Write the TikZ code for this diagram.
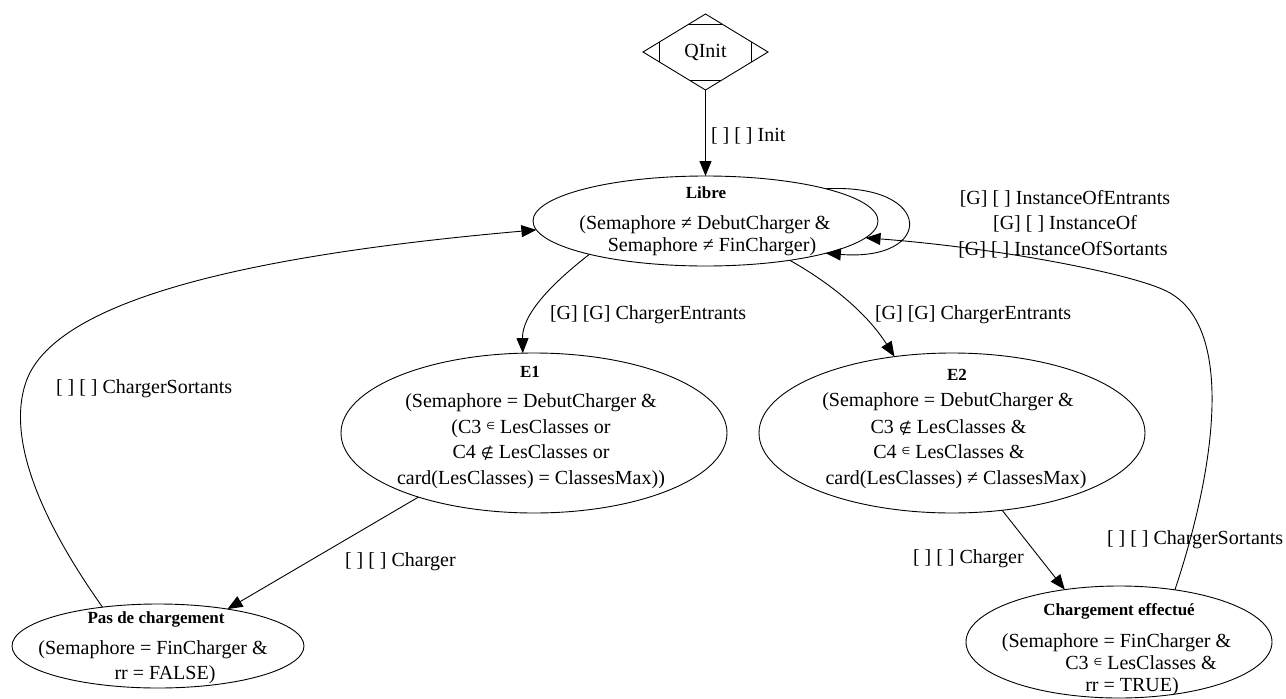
\documentclass[tikz,border=0pt]{standalone}
\usepackage{fontspec}
\setmainfont{Liberation Serif}
\newfontfamily\symf{DejaVu Sans}
\usetikzlibrary{shapes.geometric,arrows.meta,calc}
\newcommand{\smallin}{\raisebox{4pt}{\symf\fontsize{10}{10}\selectfont ∈}}
\newcommand{\bignotin}{{\symf\fontsize{15}{15}\selectfont ∉}}
\begin{document}
\begin{tikzpicture}[x=1pt,y=-1pt,
  every node/.style={inner sep=0pt, outer sep=0pt},
  st/.style 2 args={draw, ellipse, line width=0.9pt, minimum width=#1, minimum height=#2},
  tx/.style={font=\fontsize{20}{24}\selectfont, anchor=base},
  tb/.style={font=\bfseries\fontsize{17}{20}\selectfont, anchor=base},
  lb/.style={font=\fontsize{20}{24}\selectfont, anchor=base west},
  arr/.style={line width=0.9pt, -{Triangle[length=15pt,width=12pt]}},
  thin/.style={line width=0.9pt}]
\path[use as bounding box] (0,0) rectangle (1286,699);

% initial state
\node[draw, diamond, thin, aspect=1.645, minimum width=125pt, minimum height=76pt,
      font=\fontsize{20}{24}\selectfont] (qinit) at (705.5,52) {QInit};
\draw[thin] ($(qinit.north)!0.27!(qinit.west)$) -- ($(qinit.north)!0.27!(qinit.east)$);
\draw[thin] ($(qinit.south)!0.25!(qinit.west)$) -- ($(qinit.south)!0.25!(qinit.east)$);
\draw[thin] ($(qinit.west)!0.26!(qinit.north)$) -- ($(qinit.west)!0.26!(qinit.south)$);
\draw[thin] ($(qinit.east)!0.26!(qinit.north)$) -- ($(qinit.east)!0.26!(qinit.south)$);

% states
\node[st={345pt}{90pt}] (libre) at (705.5,221) {};
\node[st={386pt}{160pt}] (e1) at (534,433) {};
\node[st={386pt}{160pt}] (e2) at (952,433) {};
\node[st={292pt}{84pt}] (pas) at (158,646) {};
\node[st={306pt}{112pt}] (chef) at (1119,642) {};

% state texts
\node[tb] (libreT) at (706,198.5) {Libre};
\node[tx] (libreA) at (705,229.5) {(Semaphore ≠ DebutCharger \&};
\node[tx] (libreB) at (712,251) {Semaphore ≠ FinCharger)};

\node[tb] (e1T) at (530,377.5) {E1};
\node[tx] (e1A) at (531,407.5) {(Semaphore = DebutCharger \&};
\node[tx] (e1B) at (531,433.5) {(C3 \smallin{} LesClasses or};
\node[tx] (e1C) at (531,458.5) {C4 \bignotin{} LesClasses or};
\node[tx] (e1D) at (531,484.5) {card(LesClasses) = ClassesMax))};

\node[tb] (e2T) at (957,380.5) {E2};
\node[tx] (e2A) at (948,406.5) {(Semaphore = DebutCharger \&};
\node[tx] (e2B) at (948.5,433.5) {C3 \bignotin{} LesClasses \&};
\node[tx] (e2C) at (949,458.5) {C4 \smallin{} LesClasses \&};
\node[tx] (e2D) at (956,484.5) {card(LesClasses) ≠ ClassesMax)};

\node[tb] (pasT) at (156,623.5) {Pas de chargement};
\node[tx] (pasA) at (153,654.5) {(Semaphore = FinCharger \&};
\node[tx] (pasB) at (165,679.5) {rr = FALSE)};

\node[tb] (chefT) at (1119,615.5) {Chargement effectué};
\node[tx] (chefA) at (1116.5,647.5) {(Semaphore = FinCharger \&};
\node[tx] (chefB) at (1141,669.5) {C3 \smallin{} LesClasses \&};
\node[tx] (chefC) at (1132,691.5) {rr = TRUE)};

% transitions
\draw[arr] (qinit.south) -- (libre.north);
\draw[arr] (libre.15) .. controls (935,183) and (935,262) .. (libre.-15);
\draw[arr] (pas.145) .. controls (55,540) and (5,450) .. (25,385)
           .. controls (50,300) and (250,255) .. (libre.183);
\draw[arr] (chef.43) .. controls (1215,470) and (1235,330) .. (1170,293)
           .. controls (1140,275) and (1000,248) .. (libre.-6);
\draw[arr] (libre.196) .. controls (550,285) and (522,315) .. (e1.98);
\draw[arr] (libre.-25) .. controls (825,280) and (865,310) .. (e2.127);
\draw[arr] (e1.209) -- (pas.28);
\draw[arr] (e2.-57) -- (chef.136);

% transition labels
\node[lb] (lInit) at (711,141.5) {[ ] [ ] Init};
\node[tx] (lLoopA) at (1065,204.5) {[G] [ ] InstanceOfEntrants};
\node[tx] (lLoopB) at (1065,229.5) {[G] [ ] InstanceOf};
\node[tx] (lLoopC) at (1063,255) {[G] [ ] InstanceOfSortants};
\node[lb] (lCE1) at (550,319.5) {[G] [G] ChargerEntrants};
\node[lb] (lCE2) at (875,319.5) {[G] [G] ChargerEntrants};
\node[lb] (lCS1) at (56,393.5) {[ ] [ ] ChargerSortants};
\node[lb] (lCS2) at (1107,544.5) {[ ] [ ] ChargerSortants};
\node[lb] (lCh1) at (345,566.5) {[ ] [ ] Charger};
\node[lb] (lCh2) at (913,563.5) {[ ] [ ] Charger};
\end{tikzpicture}
\end{document}
